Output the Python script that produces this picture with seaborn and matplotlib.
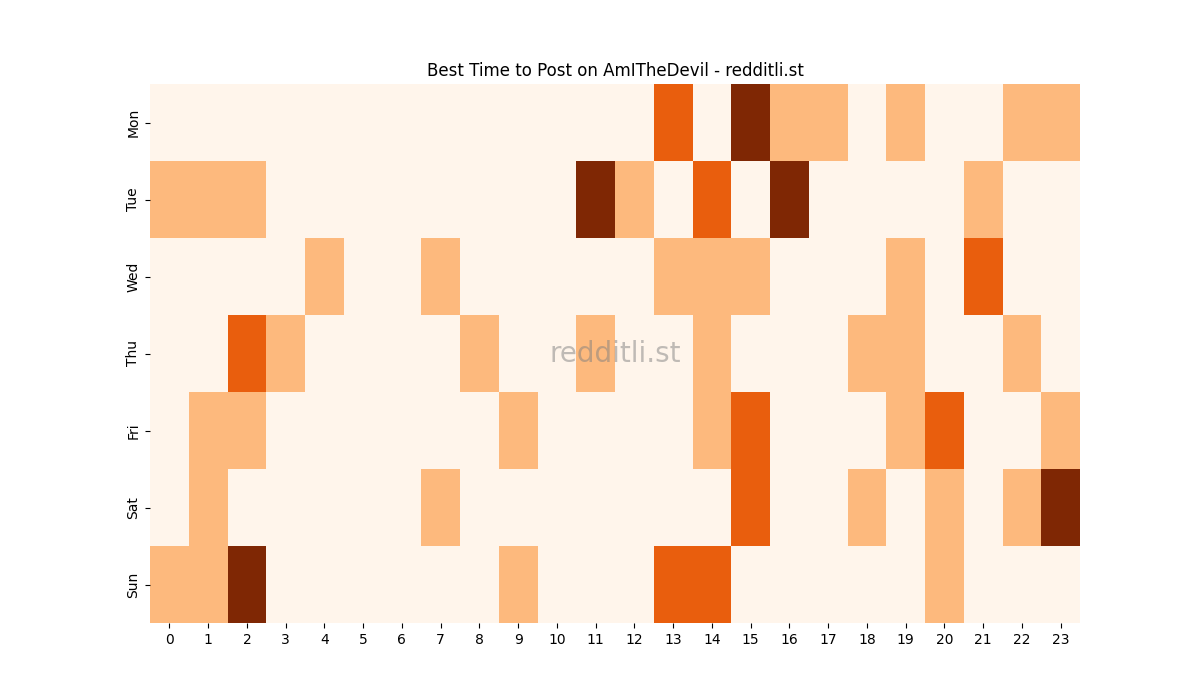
import numpy as np
import pandas as pd
import matplotlib
matplotlib.use("Agg")
import matplotlib.pyplot as plt
import seaborn as sns

days = ["Mon", "Tue", "Wed", "Thu", "Fri", "Sat", "Sun"]
hours = list(range(24))

mon = [0,0,0,0,0,0,0,0,0,0,0,0,0,2,0,3,1,1,0,1,0,0,1,1]
tue = [1,1,1,0,0,0,0,0,0,0,0,3,1,0,2,0,3,0,0,0,0,1,0,0]
wed = [0,0,0,0,1,0,0,1,0,0,0,0,0,1,1,1,0,0,0,1,0,2,0,0]
thu = [0,0,2,1,0,0,0,0,1,0,0,1,0,0,1,0,0,0,1,1,0,0,1,0]
fri = [0,1,1,0,0,0,0,0,0,1,0,0,0,0,1,2,0,0,0,1,2,0,0,1]
sat = [0,1,0,0,0,0,0,1,0,0,0,0,0,0,0,2,0,0,1,0,1,0,1,3]
sun = [1,1,3,0,0,0,0,0,0,1,0,0,0,2,2,0,0,0,0,0,1,0,0,0]

df = pd.DataFrame([mon, tue, wed, thu, fri, sat, sun], index=days, columns=hours)

fig, ax = plt.subplots(figsize=(12, 7), dpi=100)
sns.heatmap(df, cmap="Oranges", cbar=False, ax=ax)
ax.set_title("Best Time to Post on AmITheDevil - redditli.st")
ax.set_xlabel("")
ax.set_ylabel("")
ax.tick_params(axis="x", rotation=0)
ax.tick_params(axis="y", rotation=90)
ax.text(0.5, 0.5, "redditli.st", transform=ax.transAxes, fontsize=20,
        color="gray", alpha=0.5, ha="center", va="center")

plt.savefig("out.png", dpi=100)
